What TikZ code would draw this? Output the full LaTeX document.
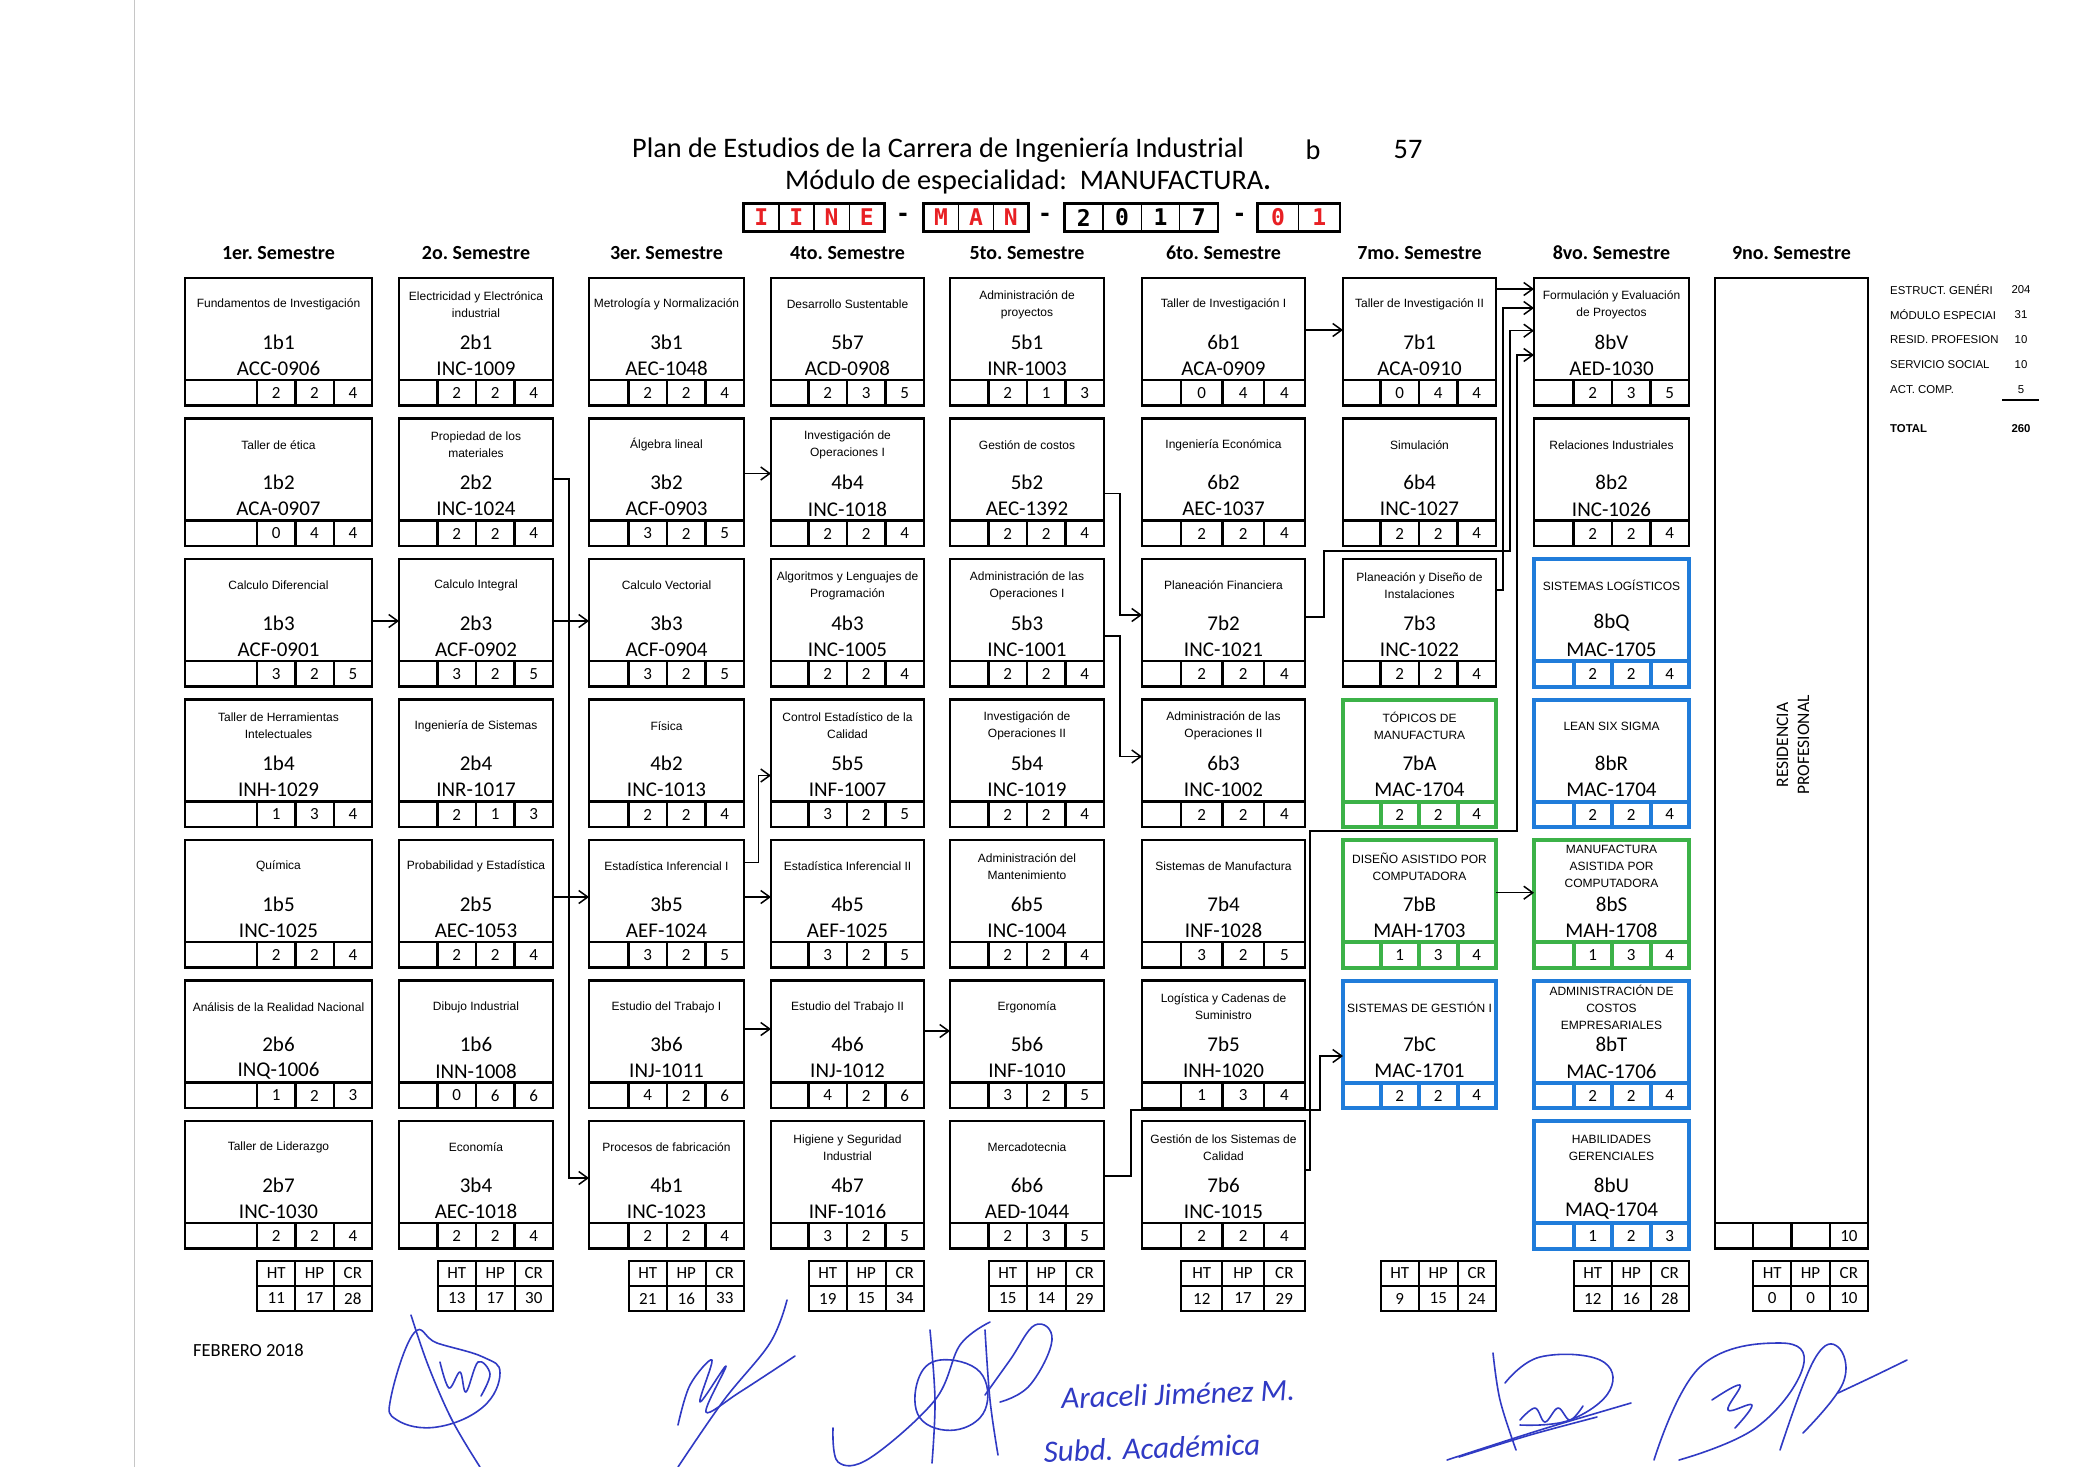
\documentclass[tikz,border=0pt]{standalone}
\usepackage{fontspec}
\setmainfont{Carlito}
\newfontfamily\arialf{Liberation Sans}
\newfontfamily\monof{DejaVu Sans Mono}
\usetikzlibrary{arrows.meta}
\definecolor{verde}{RGB}{60,178,72}
\definecolor{azul}{RGB}{32,124,218}
\definecolor{rojo}{RGB}{232,32,36}
\definecolor{tinta}{RGB}{48,58,196}
\tikzstyle{caja}=[draw, inner sep=0pt, outer sep=0pt, minimum height=127.5pt]
\tikzstyle{cnegra}=[draw=black, line width=2.4pt]
\tikzstyle{cverde}=[draw=verde, line width=4pt]
\tikzstyle{cazul}=[draw=azul, line width=4pt]
\tikzstyle{nombre}=[font=\arialf\fontsize{12}{17}\selectfont, align=center, inner sep=0pt]
\tikzstyle{clave}=[font=\fontsize{21}{21}\selectfont, inner sep=0pt]
\tikzstyle{num}=[font=\fontsize{17}{17}\selectfont, inner sep=0pt]
\tikzstyle{tabla}=[line width=2pt]
\tikzstyle{semestre}=[font=\bfseries\fontsize{20}{20}\selectfont, inner sep=0pt]
\tikzstyle{titulo}=[font=\fontsize{28.3}{28.3}\selectfont, inner sep=0pt]
\tikzstyle{letra}=[font=\monof\bfseries\fontsize{23}{23}\selectfont, inner sep=0pt, draw, line width=1.4pt, minimum height=28pt]
\tikzstyle{guion}=[font=\monof\bfseries\fontsize{23}{23}\selectfont, inner sep=0pt]
\tikzstyle{dato}=[font=\arialf\fontsize{11.4}{11.4}\selectfont, inner sep=0pt]
\tikzstyle{flecha}=[line width=1.5pt, -{Straight Barb[length=9pt,width=13pt]}]
\tikzstyle{firma}=[draw=tinta, line width=1.6pt, line cap=round, line join=round]
\tikzstyle{mano}=[font=\itshape\fontsize{31}{31}\selectfont, text=tinta, inner sep=0pt]

% columnas: borde izquierdo, ancho, ancho de celda
\newcommand{\colinfo}[1]{%
  \pgfmathsetmacro{\mx}{{185,399,589,771,950,1142,1343,1534,1715}[#1-1]}%
  \pgfmathsetmacro{\mw}{{187,154,155,153,154,163,153,155,153}[#1-1]}%
  \pgfmathsetmacro{\mc}{{38.3,38.5,38.5,38.5,38.5,41.3,38.5,38.5,38.3}[#1-1]}%
  \pgfmathsetmacro{\mr}{\mx+\mw}%
  \pgfmathsetmacro{\mcx}{\mx+\mw/2}}

% materia: col, fila, nombre, clave, codigo, HT, HP, CR, estilo
\newcommand{\materia}[9]{%
  \colinfo{#1}%
  \pgfmathsetmacro{\my}{278+(#2-1)*140.5}%
  \node[caja,#9,minimum width=\mw pt,anchor=north west] (m#1#2) at (\mx,\my) {};
  \node[nombre] (m#1#2n) at (\mcx,\my+26.5) {#3};
  \node[clave] (m#1#2k) at (\mcx,\my+64) {#4};
  \node[clave] (m#1#2c) at (\mcx,\my+90.5) {#5};
  \draw[#9] (\mx,\my+102) -- (\mr,\my+102);
  \foreach \j in {1,2,3} \draw[#9] (\mr-\j*\mc,\my+102) -- (\mr-\j*\mc,\my+127.5);
  \node[num] (m#1#2a) at (\mr-2.5*\mc,\my+115) {#6};
  \node[num] (m#1#2b) at (\mr-1.5*\mc,\my+115) {#7};
  \node[num] (m#1#2d) at (\mr-0.5*\mc,\my+115) {#8};
}

% totales del semestre: col, HT, HP, CR
\newcommand{\resumen}[4]{%
  \colinfo{#1}%
  \draw[tabla] (\mr-3*\mc,1261) rectangle (\mr,1311);
  \draw[tabla] (\mr-3*\mc,1286) -- (\mr,1286);
  \foreach \j in {1,2} \draw[tabla] (\mr-\j*\mc,1261) -- (\mr-\j*\mc,1311);
  \node[num] (r#1t) at (\mr-2.5*\mc,1273.5) {HT};
  \node[num] (r#1p) at (\mr-1.5*\mc,1273.5) {HP};
  \node[num] (r#1c) at (\mr-0.5*\mc,1273.5) {CR};
  \node[num] (r#1a) at (\mr-2.5*\mc,1298.5) {#2};
  \node[num] (r#1b) at (\mr-1.5*\mc,1298.5) {#3};
  \node[num] (r#1d) at (\mr-0.5*\mc,1298.5) {#4};
}

\begin{document}
\begin{tikzpicture}[x=1pt,y=-1pt]
\fill[white] (0,0) rectangle (2086,1467);
\useasboundingbox (0,0) rectangle (2086,1467);
\draw[gray!45, line width=1pt] (134,0) -- (134,1467);

% encabezado
\node[titulo] (t1) at (938,150) {Plan de Estudios de la Carrera de Ingeniería Industrial};
\node[titulo] (t1b) at (1313,150) {b};
\node[titulo] (t1n) at (1408,150) {57};
\node[titulo] (t2) at (1028,182) {Módulo de especialidad:\ \ MANUFACTURA\textbf{.}};

\foreach \l [count=\i] in {I,I,N,E}
  \node[letra,text=rojo,minimum width=35.2pt] (ca\i) at (743.6+35.2*\i-17.6,217.5) {\l};
\draw[line width=2.6pt] (743.6,203.5) rectangle (884.4,231.5);
\node[guion] (g1) at (903,217) {-};
\foreach \l [count=\i] in {M,A,N}
  \node[letra,text=rojo,minimum width=34.9pt] (cb\i) at (923.6+34.9*\i-17.45,217.5) {\l};
\draw[line width=2.6pt] (923.6,203.5) rectangle (1028.3,231.5);
\node[guion] (g2) at (1045,217) {-};
\foreach \l [count=\i] in {2,0,1,7}
  \node[letra,minimum width=38.4pt] (cc\i) at (1064.5+38.4*\i-19.2,217.5) {\l};
\draw[line width=2.6pt] (1064.5,203.5) rectangle (1218.1,231.5);
\node[guion] (g3) at (1239.5,217) {-};
\foreach \l [count=\i] in {0,1}
  \node[letra,text=rojo,minimum width=41.2pt] (cd\i) at (1257.5+41.2*\i-20.6,217.5) {\l};
\draw[line width=2.6pt] (1257.5,203.5) rectangle (1339.9,231.5);

\foreach \t [count=\i] in {1er.,2o.,3er.,4to.,5to.,6to.,7mo.,8vo.,9no.} {
  \pgfmathsetmacro{\hx}{{278.5,476,666.5,847.5,1027,1223.5,1419.5,1611.5,1791.5}[\i-1]}
  \node[semestre] (s\i) at (\hx,253) {\t\ Semestre};
}

% 1er semestre
\materia{1}{1}{Fundamentos de Investigación}{1b1}{ACC-0906}{2}{2}{4}{cnegra}
\materia{1}{2}{Taller de ética}{1b2}{ACA-0907}{0}{4}{4}{cnegra}
\materia{1}{3}{Calculo Diferencial}{1b3}{ACF-0901}{3}{2}{5}{cnegra}
\materia{1}{4}{Taller de Herramientas\\Intelectuales}{1b4}{INH-1029}{1}{3}{4}{cnegra}
\materia{1}{5}{Química}{1b5}{INC-1025}{2}{2}{4}{cnegra}
\materia{1}{6}{Análisis de la Realidad Nacional}{2b6}{INQ-1006}{1}{2}{3}{cnegra}
\materia{1}{7}{Taller de Liderazgo}{2b7}{INC-1030}{2}{2}{4}{cnegra}
\resumen{1}{11}{17}{28}
% 2o semestre
\materia{2}{1}{Electricidad y Electrónica\\industrial}{2b1}{INC-1009}{2}{2}{4}{cnegra}
\materia{2}{2}{Propiedad de los\\materiales}{2b2}{INC-1024}{2}{2}{4}{cnegra}
\materia{2}{3}{Calculo Integral}{2b3}{ACF-0902}{3}{2}{5}{cnegra}
\materia{2}{4}{Ingeniería de Sistemas}{2b4}{INR-1017}{2}{1}{3}{cnegra}
\materia{2}{5}{Probabilidad y Estadística}{2b5}{AEC-1053}{2}{2}{4}{cnegra}
\materia{2}{6}{Dibujo Industrial}{1b6}{INN-1008}{0}{6}{6}{cnegra}
\materia{2}{7}{Economía}{3b4}{AEC-1018}{2}{2}{4}{cnegra}
\resumen{2}{13}{17}{30}
% 3er semestre
\materia{3}{1}{Metrología y Normalización}{3b1}{AEC-1048}{2}{2}{4}{cnegra}
\materia{3}{2}{Álgebra lineal}{3b2}{ACF-0903}{3}{2}{5}{cnegra}
\materia{3}{3}{Calculo Vectorial}{3b3}{ACF-0904}{3}{2}{5}{cnegra}
\materia{3}{4}{Física}{4b2}{INC-1013}{2}{2}{4}{cnegra}
\materia{3}{5}{Estadística Inferencial I}{3b5}{AEF-1024}{3}{2}{5}{cnegra}
\materia{3}{6}{Estudio del Trabajo I}{3b6}{INJ-1011}{4}{2}{6}{cnegra}
\materia{3}{7}{Procesos de fabricación}{4b1}{INC-1023}{2}{2}{4}{cnegra}
\resumen{3}{21}{16}{33}
% 4to semestre
\materia{4}{1}{Desarrollo Sustentable}{5b7}{ACD-0908}{2}{3}{5}{cnegra}
\materia{4}{2}{Investigación de\\Operaciones I}{4b4}{INC-1018}{2}{2}{4}{cnegra}
\materia{4}{3}{Algoritmos y Lenguajes de\\Programación}{4b3}{INC-1005}{2}{2}{4}{cnegra}
\materia{4}{4}{Control Estadístico de la\\Calidad}{5b5}{INF-1007}{3}{2}{5}{cnegra}
\materia{4}{5}{Estadística Inferencial II}{4b5}{AEF-1025}{3}{2}{5}{cnegra}
\materia{4}{6}{Estudio del Trabajo II}{4b6}{INJ-1012}{4}{2}{6}{cnegra}
\materia{4}{7}{Higiene y Seguridad\\Industrial}{4b7}{INF-1016}{3}{2}{5}{cnegra}
\resumen{4}{19}{15}{34}
% 5to semestre
\materia{5}{1}{Administración de\\proyectos}{5b1}{INR-1003}{2}{1}{3}{cnegra}
\materia{5}{2}{Gestión de costos}{5b2}{AEC-1392}{2}{2}{4}{cnegra}
\materia{5}{3}{Administración de las\\Operaciones I}{5b3}{INC-1001}{2}{2}{4}{cnegra}
\materia{5}{4}{Investigación de\\Operaciones II}{5b4}{INC-1019}{2}{2}{4}{cnegra}
\materia{5}{5}{Administración del\\Mantenimiento}{6b5}{INC-1004}{2}{2}{4}{cnegra}
\materia{5}{6}{Ergonomía}{5b6}{INF-1010}{3}{2}{5}{cnegra}
\materia{5}{7}{Mercadotecnia}{6b6}{AED-1044}{2}{3}{5}{cnegra}
\resumen{5}{15}{14}{29}
% 6to semestre
\materia{6}{1}{Taller de Investigación I}{6b1}{ACA-0909}{0}{4}{4}{cnegra}
\materia{6}{2}{Ingeniería Económica}{6b2}{AEC-1037}{2}{2}{4}{cnegra}
\materia{6}{3}{Planeación Financiera}{7b2}{INC-1021}{2}{2}{4}{cnegra}
\materia{6}{4}{Administración de las\\Operaciones II}{6b3}{INC-1002}{2}{2}{4}{cnegra}
\materia{6}{5}{Sistemas de Manufactura}{7b4}{INF-1028}{3}{2}{5}{cnegra}
\materia{6}{6}{Logística y Cadenas de\\Suministro}{7b5}{INH-1020}{1}{3}{4}{cnegra}
\materia{6}{7}{Gestión de los Sistemas de\\Calidad}{7b6}{INC-1015}{2}{2}{4}{cnegra}
\resumen{6}{12}{17}{29}
% 7mo semestre
\materia{7}{1}{Taller de Investigación II}{7b1}{ACA-0910}{0}{4}{4}{cnegra}
\materia{7}{2}{Simulación}{6b4}{INC-1027}{2}{2}{4}{cnegra}
\materia{7}{3}{Planeación y Diseño de\\Instalaciones}{7b3}{INC-1022}{2}{2}{4}{cnegra}
\materia{7}{4}{TÓPICOS DE\\MANUFACTURA}{7bA}{MAC-1704}{2}{2}{4}{cverde}
\materia{7}{5}{DISEÑO ASISTIDO POR\\COMPUTADORA}{7bB}{MAH-1703}{1}{3}{4}{cverde}
\materia{7}{6}{SISTEMAS DE GESTIÓN I}{7bC}{MAC-1701}{2}{2}{4}{cazul}
\resumen{7}{9}{15}{24}
% 8vo semestre
\materia{8}{1}{Formulación y Evaluación\\de Proyectos}{8bV}{AED-1030}{2}{3}{5}{cnegra}
\materia{8}{2}{Relaciones Industriales}{8b2}{INC-1026}{2}{2}{4}{cnegra}
\materia{8}{3}{SISTEMAS LOGÍSTICOS}{8bQ}{MAC-1705}{2}{2}{4}{cazul}
\materia{8}{4}{LEAN SIX SIGMA}{8bR}{MAC-1704}{2}{2}{4}{cazul}
\materia{8}{5}{MANUFACTURA\\ASISTIDA POR\\COMPUTADORA}{8bS}{MAH-1708}{1}{3}{4}{cverde}
\materia{8}{6}{ADMINISTRACIÓN DE\\COSTOS\\EMPRESARIALES}{8bT}{MAC-1706}{2}{2}{4}{cazul}
\materia{8}{7}{HABILIDADES\\GERENCIALES}{8bU}{MAQ-1704}{1}{2}{3}{cazul}
\resumen{8}{12}{16}{28}
% 9no semestre
\node[caja,cnegra,minimum width=153pt,minimum height=970.5pt,anchor=north west] (m91) at (1715,278) {};
\draw[cnegra] (1715,1223) -- (1868,1223);
\foreach \j in {1,2,3} \draw[cnegra] (1868-\j*38.3,1223) -- (1868-\j*38.3,1248.5);
\node[num] (m91d) at (1868-0.5*38.3,1236) {10};
\node[font=\fontsize{17.5}{21}\selectfont, align=center, rotate=90, inner sep=0pt] (m91n) at (1793,745) {RESIDENCIA\\PROFESIONAL};
\resumen{9}{0}{0}{10}

% seriacion
\draw[flecha] ([yshift=-62pt]m13.north east) -- ([yshift=-62pt]m23.north west);
\draw[flecha] ([yshift=-62pt]m23.north east) -- ([yshift=-62pt]m33.north west);
\draw[flecha] ([yshift=-57pt]m25.north east) -- ([yshift=-57pt]m35.north west);
\draw[flecha] ([yshift=-60.5pt]m22.north east) -- ++(16,0) |- ([yshift=-57pt]m37.north west);
\draw[flecha] ([yshift=-55pt]m32.north east) -- ([yshift=-55pt]m42.north west);
\draw[flecha] ([yshift=-57pt]m35.north east) -- ([yshift=-57pt]m45.north west);
\draw[flecha] ([yshift=-22.7pt]m35.north east) -- ++(14.3,0) |- ([yshift=-76pt]m44.north west);
\draw[flecha] ([yshift=-48.5pt]m36.north east) -- ([yshift=-48.5pt]m46.north west);
\draw[flecha] ([yshift=-50.5pt]m46.north east) -- ([yshift=-50.5pt]m56.north west);
\draw[flecha] ([yshift=-75pt]m52.north east) -- ++(16,0) |- ([yshift=-56pt]m63.north west);
\draw[flecha] ([yshift=-77pt]m53.north east) -- ++(16,0) |- ([yshift=-57pt]m64.north west);
\draw[flecha] ([yshift=-52pt]m61.north east) -- ([yshift=-52pt]m71.north west);
\draw[flecha] ([yshift=-58pt]m63.north east) -- ++(19,0) |- (1510,551) |- ([yshift=-52.7pt]m81.north west);
\draw[flecha] ([yshift=-55pt]m57.north east) -- ++(27,0) |- (1320,1110) |- ([yshift=-75.5pt]m76.north west);
\draw[flecha] ([yshift=-49pt]m67.north east) -- ++(5,0) |- (1517,831) |- ([yshift=-77pt]m81.north west);
\draw[flecha] ([yshift=-11pt]m71.north east) -- ([yshift=-11pt]m81.north west);
\draw[flecha] ([yshift=-31pt]m73.north east) -- ++(7,0) |- ([yshift=-30pt]m81.north west);
\draw[flecha] ([yshift=-52.7pt]m75.north east) -- ([yshift=-52.7pt]m85.north west);

% creditos
\begin{scope}
\clip (1880,270) rectangle (1999,440);
\foreach \t [count=\i] in {ESTRUCT. GENÉRI,MÓDULO ESPECIAI,RESID. PROFESION,SERVICIO SOCIAL,ACT. COMP.}
  \node[dato,anchor=west] (e\i) at (1890,264+25.2*\i) {\t};
\node[dato,anchor=west,font=\arialf\bfseries\fontsize{11.4}{11.4}\selectfont] (et) at (1890,428.5) {TOTAL};
\end{scope}
\foreach \v [count=\i] in {204,31,10,10,5}
  \node[dato] (v\i) at (2021,264+25.2*\i) {\v};
\draw[line width=1.2pt] (2002,400) -- (2039,400);
\node[dato,font=\arialf\bfseries\fontsize{11.4}{11.4}\selectfont] (vt) at (2021,428.5) {260};

% pie
\node[font=\fontsize{18.5}{18.5}\selectfont, anchor=west, inner sep=0pt] (fecha) at (193,1350) {FEBRERO 2018};
\node[mano, rotate=2] (f3a) at (1178,1394) {Araceli Jiménez M.};
\node[mano, rotate=2] (f3b) at (1152,1448) {Subd. Académica};

% firmas
\draw[firma] plot[smooth, tension=0.6] coordinates {(411,1315) (428,1365) (452,1420) (480,1467)};
\draw[firma] plot[smooth cycle, tension=0.7] coordinates {(414,1333) (391,1397) (397,1420) (437,1427) (483,1407) (500,1373) (483,1357) (437,1343)};
\draw[firma] plot[smooth, tension=0.6] coordinates {(440,1362) (449,1388) (460,1372) (466,1392) (478,1362) (490,1374) (481,1396)};
\draw[firma] plot[smooth, tension=0.6] coordinates {(787,1300) (770,1343) (724,1400) (678,1467)};
\draw[firma] plot[smooth, tension=0.6] coordinates {(678,1425) (690,1385) (712,1360) (700,1402) (726,1366) (706,1412) (740,1392) (795,1356)};
\draw[firma] plot[smooth, tension=0.6] coordinates {(833,1428) (838,1462) (870,1458) (935,1400) (960,1345) (990,1322)};
\draw[firma] plot[smooth cycle, tension=0.7] coordinates {(918,1380) (940,1360) (980,1372) (985,1410) (955,1430) (920,1418)};
\draw[firma] plot[smooth, tension=0.6] coordinates {(930,1330) (935,1400) (932,1463)};
\draw[firma] plot[smooth, tension=0.6] coordinates {(985,1330) (990,1400) (998,1455)};
\draw[firma] plot[smooth, tension=0.7] coordinates {(985,1395) (1010,1360) (1035,1325) (1052,1340) (1030,1385) (1000,1402)};
\draw[firma] plot[smooth, tension=0.6] coordinates {(1493,1353) (1500,1400) (1516,1450)};
\draw[firma] plot[smooth, tension=0.7] coordinates {(1505,1383) (1540,1357) (1600,1360) (1610,1390) (1570,1420) (1520,1425)};
\draw[firma] plot[smooth, tension=0.5] coordinates {(1447,1460) (1540,1430) (1631,1403)};
\draw[firma] plot[smooth, tension=0.5] coordinates {(1459,1457) (1530,1435) (1597,1417)};
\draw[firma] plot[smooth, tension=0.6] coordinates {(1520,1420) (1535,1408) (1545,1422) (1558,1408) (1570,1420) (1583,1406)};
\draw[firma] plot[smooth, tension=0.7] coordinates {(1654,1460) (1700,1367) (1780,1343) (1803,1367) (1757,1427) (1679,1460)};
\draw[firma] plot[smooth, tension=0.7] coordinates {(1780,1450) (1814,1360) (1838,1347) (1843,1383) (1803,1433)};
\draw[firma] plot[smooth, tension=0.6] coordinates {(1838,1393) (1872,1377) (1907,1360)};
\draw[firma] plot[smooth, tension=0.7] coordinates {(1712,1400) (1740,1385) (1728,1410) (1752,1405) (1735,1428)};
\end{tikzpicture}
\end{document}
